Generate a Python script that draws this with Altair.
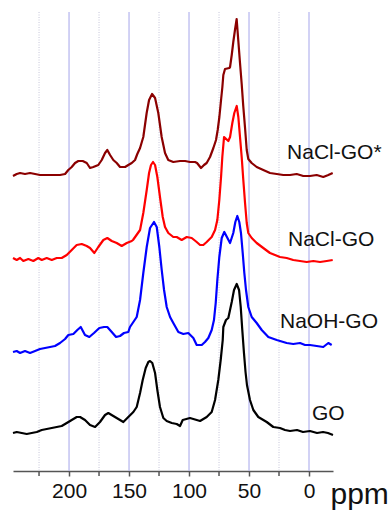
import altair as alt
import pandas as pd

# ---- spectra: chemical shift (ppm) and stacked intensity (arbitrary units, offset included) ----
ppm_naclgo_star = [246.7, 243.6, 240.8, 236.7, 232.5, 228.3, 224.2, 218.6, 213.1, 207.5, 203.3, 200.6,
                   197.75, 195.0, 192.25, 188.6, 185.25, 182.5, 179.75, 175.6, 172.75, 170.0, 168.1,
                   165.8, 163.1, 160.25, 157.5, 153.3, 150.6, 147.75, 145.0, 143.1, 140.8, 138.1,
                   135.3, 133.3, 130.8, 128.3, 125.6, 122.8, 120.0, 117.3, 113.1, 107.5, 103.3, 99.2,
                   95.0, 93.3, 90.0, 87.5, 85.3, 82.5, 79.7, 77.5, 76.1, 74.7, 73.3, 72.2, 71.4, 70.0,
                   66.4, 65.8, 64.4, 63.1, 61.7, 60.3, 58.9, 57.5, 56.1, 54.8, 53.3, 51.9, 50.6, 47.8,
                   43.6, 38.1, 32.5, 26.9, 21.4, 15.8, 10.25, 4.75, -0.8, -6.4, -11.9, -16.1, -19.75]
int_naclgo_star = [295, 297, 298, 297, 298, 297, 296, 296, 296, 296, 297, 301,
                   304, 308, 310, 310, 308, 303, 304, 306, 311, 318, 321,
                   316, 311, 308, 304, 304, 306, 308, 311, 317, 323, 334,
                   358, 371, 377, 373, 358, 334, 318, 311, 309, 310, 310, 309,
                   309, 308, 303, 306, 308, 314, 323, 331, 341, 354, 371, 384, 396, 402,
                   403, 404, 416, 429, 441, 452, 430, 408, 387, 365, 343, 321, 312, 308,
                   304, 301, 298, 297, 296, 296, 297, 295, 295, 296, 294, 296, 298]

ppm_naclgo = [246.7, 243.6, 240.8, 238.1, 233.9, 229.75, 225.6, 222.75, 218.6, 214.4, 210.25, 206.1,
              201.9, 197.75, 193.6, 189.4, 185.25, 182.5, 178.9, 175.6, 171.4, 168.1, 164.4, 160.25,
              156.1, 151.9, 147.75, 146.7, 140.8, 138.1, 135.25, 133.3, 131.7, 130.0, 128.3, 126.4,
              124.2, 121.9, 120.0, 117.25, 113.1, 110.25, 106.1, 101.9, 97.75, 93.6, 90.8, 88.1,
              85.25, 81.1, 78.3, 76.4, 74.75, 73.3, 72.25, 70.8, 67.25, 65.8, 63.9, 62.25, 60.25,
              58.9, 57.5, 56.1, 54.75, 53.3, 51.9, 50.6, 47.75, 43.6, 38.1, 32.5, 24.2, 18.6, 13.1,
              7.5, 1.9, -3.6, -9.2, -14.75, -19.75]
int_naclgo = [213, 211, 213, 210, 212, 210, 213, 211, 213, 211, 213, 213,
              216, 221, 226, 227, 225, 223, 218, 224, 231, 233, 230, 228,
              225, 228, 230, 231, 241, 258, 281, 298, 306, 309, 306, 294,
              274, 254, 244, 238, 234, 234, 231, 234, 233, 229, 226, 226,
              229, 234, 241, 251, 271, 294, 314, 334, 330, 334, 348, 358, 365,
              354, 334, 314, 291, 268, 248, 238, 233, 228, 223, 218, 214, 213, 211,
              210, 209, 210, 209, 210, 211]

ppm_naohgo = [246.7, 243.6, 240.8, 236.7, 232.5, 228.3, 224.2, 220.0, 215.8, 211.7, 207.5, 203.3,
              200.6, 196.4, 193.1, 190.25, 186.7, 183.1, 179.2, 174.75, 170.8, 168.1, 164.4, 160.8,
              157.5, 154.2, 150.6, 149.2, 146.4, 143.6, 140.8, 138.1, 135.25, 132.5, 129.2, 126.9,
              124.75, 122.75, 120.8, 118.6, 115.8, 113.1, 108.9, 104.75, 100.6, 96.4, 93.6, 92.25,
              89.4, 86.7, 83.9, 81.1, 79.2, 77.75, 76.4, 74.75, 72.75, 70.6, 65.8, 63.1, 61.4,
              59.75, 58.1, 56.7, 55.25, 53.9, 52.5, 50.6, 47.75, 43.6, 39.4, 33.9, 26.9, 18.6,
              13.1, 7.5, 3.3, -0.8, -6.4, -11.9, -16.1, -18.9]
int_naohgo = [119, 120, 118, 120, 118, 120, 122, 123, 124, 125, 128, 132,
              136, 137, 141, 144, 136, 134, 138, 143, 144, 144, 139, 134,
              135, 138, 139, 144, 149, 154, 171, 198, 224, 243, 249, 244,
              224, 201, 181, 164, 154, 148, 139, 137, 138, 133, 126, 126,
              126, 129, 133, 141, 151, 168, 191, 214, 233, 239, 228, 238, 249,
              255, 249, 238, 218, 198, 181, 164, 154, 148, 141, 134, 131, 128,
              127, 128, 126, 126, 125, 124, 128, 126]

ppm_go = [246.7, 243.6, 239.4, 235.25, 231.1, 226.9, 222.75, 218.6, 214.4, 210.25, 206.1, 201.9,
          197.75, 193.6, 190.8, 186.7, 182.5, 178.3, 174.2, 170.0, 167.25, 163.1, 158.9, 154.75,
          150.6, 146.4, 143.6, 140.8, 138.6, 136.1, 133.9, 132.5, 130.6, 128.3, 126.4, 124.2,
          121.4, 118.6, 114.4, 110.25, 107.5, 105.25, 99.2, 93.6, 90.8, 85.25, 81.1, 78.3, 75.6,
          73.6, 71.9, 71.4, 69.2, 67.25, 64.4, 62.5, 60.25, 58.3, 56.9, 55.6, 54.2, 52.9, 51.7,
          49.2, 46.4, 42.25, 35.25, 29.75, 24.2, 20.0, 15.8, 10.0, 5.0, -0.8, -6.7, -11.7,
          -15.8, -20.0]
int_go = [38, 39, 38, 37, 38, 39, 41, 42, 43, 44, 45, 48,
          51, 54, 54, 51, 46, 44, 49, 56, 58, 55, 52, 49,
          54, 59, 64, 78, 91, 103, 109, 110, 108, 98, 81, 64,
          53, 50, 48, 47, 45, 51, 53, 51, 50, 54, 59, 71, 91,
          111, 131, 144, 151, 153, 169, 181, 187, 181, 164, 141, 118, 99, 86,
          71, 61, 54, 49, 44, 43, 41, 40, 41, 39, 40, 38, 39,
          38, 36]

series_names = ["NaCl-GO*", "NaCl-GO", "NaOH-GO", "GO"]
series_colors = ["#8b0000", "#ff0000", "#0000ff", "#000000"]

# ---- curve labels ----
label_text = ["NaCl-GO*", "NaCl-GO", "NaOH-GO", "GO"]
label_ppm = [18.3, 17.5, 24.2, -2.5]
label_int = [318, 231, 149, 57]

# ---- axis ticks / grid ----
major_ticks = [200, 150, 100, 50, 0]
minor_ticks = [225, 175, 125, 75, 25]

rows = []
for name, xs, ys in [("NaCl-GO*", ppm_naclgo_star, int_naclgo_star),
                     ("NaCl-GO", ppm_naclgo, int_naclgo),
                     ("NaOH-GO", ppm_naohgo, int_naohgo),
                     ("GO", ppm_go, int_go)]:
    for i, (x, y) in enumerate(zip(xs, ys)):
        rows.append({"series": name, "ppm": x, "intensity": y, "order": i})
df = pd.DataFrame(rows)
labels = pd.DataFrame({"text": label_text, "ppm": label_ppm, "intensity": label_int})
major_df = pd.DataFrame({"ppm": major_ticks})
minor_df = pd.DataFrame({"ppm": minor_ticks})

xscale = alt.Scale(domain=[246.7, -20], nice=False, zero=False)
yscale = alt.Scale(domain=[0, 459], nice=False, zero=False)

xaxis = alt.Axis(
    values=major_ticks,
    labelFont="Liberation Sans", labelFontSize=21, labelColor="#111",
    labelPadding=4, labelFlush=False,
    domainColor="#555", domainWidth=1.5,
    tickColor="#555", tickWidth=1.5, tickSize=5,
    grid=False,
    title="ppm", titleFont="Liberation Sans", titleFontSize=30, titleFontWeight="normal",
    titleColor="#111", titleX=317, titleY=32, titleAlign="left", titleBaseline="alphabetic",
)

major_grid = alt.Chart(major_df).mark_rule(color="#b4b4ee", strokeWidth=1.2).encode(
    x=alt.X("ppm:Q", scale=xscale, axis=xaxis),
    y=alt.value(0), y2=alt.value(459),
)
minor_grid = alt.Chart(minor_df).mark_rule(color="#cfcfe0", strokeWidth=1.2, strokeDash=[1, 1.5]).encode(
    x=alt.X("ppm:Q", scale=xscale),
    y=alt.value(0), y2=alt.value(459),
)
minor_tick_marks = alt.Chart(minor_df).mark_rule(color="#555", strokeWidth=1.5).encode(
    x=alt.X("ppm:Q", scale=xscale),
    y=alt.value(459), y2=alt.value(464),
)

lines = alt.Chart(df).mark_line(strokeWidth=2.2, strokeJoin="round").encode(
    x=alt.X("ppm:Q", scale=xscale),
    y=alt.Y("intensity:Q", scale=yscale, axis=None),
    color=alt.Color("series:N", scale=alt.Scale(domain=series_names, range=series_colors), legend=None),
    detail="series:N",
    order="order:Q",
)

texts = alt.Chart(labels).mark_text(
    align="left", baseline="middle", font="Liberation Sans", fontSize=21, color="#111"
).encode(
    x=alt.X("ppm:Q", scale=xscale),
    y=alt.Y("intensity:Q", scale=yscale),
    text="text:N",
)

chart = alt.layer(minor_grid, major_grid, minor_tick_marks, lines, texts).properties(
    width=320, height=459,
    autosize=alt.AutoSizeParams(type="none"),
    padding={"left": 13, "top": 12, "right": 57, "bottom": 39},
    background="white",
).configure_view(stroke=None)

chart.save("out.html", embed_options={"renderer": "svg", "actions": False})
